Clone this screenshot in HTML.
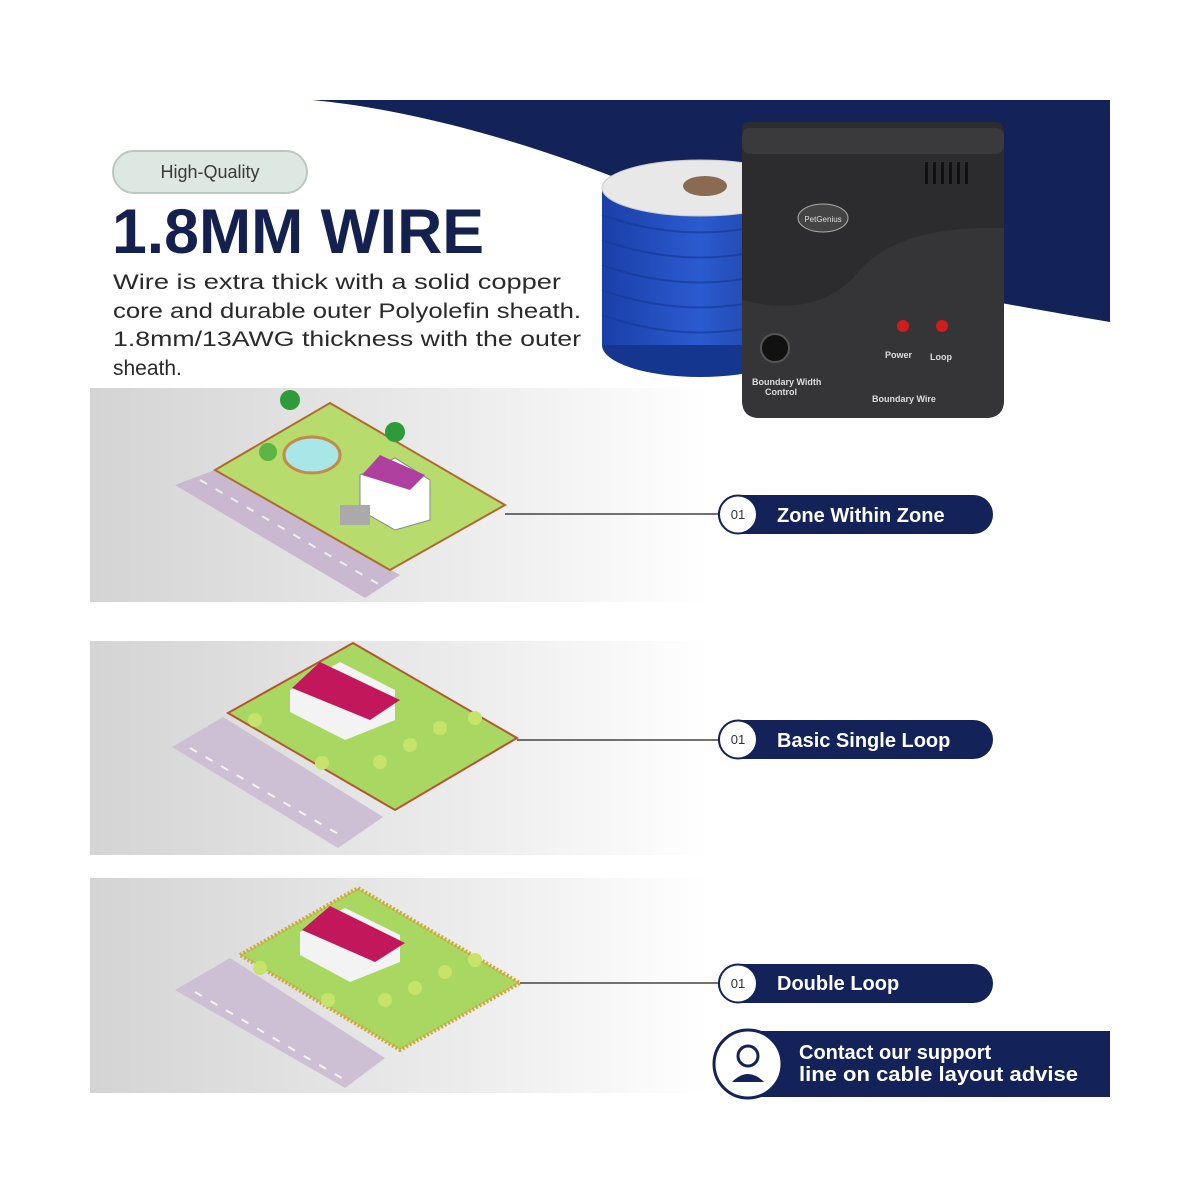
<!DOCTYPE html>
<html><head><meta charset="utf-8"><style>
html,body{margin:0;padding:0;background:#fff;}
svg{display:block;}
text{font-family:"Liberation Sans",sans-serif;}
</style></head><body>
<svg width="1200" height="1200" viewBox="0 0 1200 1200" xmlns="http://www.w3.org/2000/svg">
<defs>
<linearGradient id="pg" x1="0" y1="0" x2="1" y2="0">
<stop offset="0" stop-color="#d4d4d4"/><stop offset="0.6" stop-color="#ececec"/><stop offset="1" stop-color="#ffffff"/>
</linearGradient>
<linearGradient id="spool" x1="0" y1="0" x2="1" y2="0">
<stop offset="0" stop-color="#1a3fa8"/><stop offset="0.5" stop-color="#2b5bd0"/><stop offset="1" stop-color="#1a3a96"/>
</linearGradient>
</defs>
<!-- navy backdrop -->
<path d="M312 100 L1110 100 L1110 322 C980 300 800 270 680 205 C560 150 420 110 312 100 Z" fill="#13235a"/>

<!-- panels -->
<rect x="90" y="388" width="620" height="214" fill="url(#pg)"/>
<rect x="90" y="641" width="620" height="214" fill="url(#pg)"/>
<rect x="90" y="878" width="620" height="215" fill="url(#pg)"/>

<!-- high quality pill -->
<rect x="113" y="151" width="194" height="42" rx="21" fill="#dde8e2" stroke="#b9c9c0" stroke-width="2"/>
<text x="210" y="178" font-size="18" fill="#3a3a3a" text-anchor="middle">High-Quality</text>
<text x="112" y="253" font-size="63" font-weight="bold" fill="#14204e" textLength="372" lengthAdjust="spacingAndGlyphs">1.8MM WIRE</text>
<g font-size="21" fill="#2a2a2a">
<text x="113" y="289" textLength="448" lengthAdjust="spacingAndGlyphs">Wire is extra thick with a solid copper</text>
<text x="113" y="318" textLength="468" lengthAdjust="spacingAndGlyphs">core and durable outer Polyolefin  sheath.</text>
<text x="113" y="346" textLength="468" lengthAdjust="spacingAndGlyphs">1.8mm/13AWG thickness with the outer</text>
<text x="113" y="375">sheath.</text>
</g>

<!-- spool -->
<ellipse cx="700" cy="345" rx="98" ry="32" fill="#15368e"/>
<rect x="602" y="188" width="196" height="157" fill="url(#spool)"/>
<g stroke="#173a9a" stroke-width="2" opacity="0.7">
<path d="M602 215 Q700 250 798 215 M602 240 Q700 275 798 240 M602 265 Q700 300 798 265 M602 290 Q700 325 798 290 M602 315 Q700 350 798 315" fill="none"/>
</g>
<ellipse cx="700" cy="188" rx="98" ry="28" fill="#e8e8e8" stroke="#c9c9c9"/>
<ellipse cx="705" cy="186" rx="22" ry="10" fill="#8a6a50"/>

<!-- controller -->
<path d="M742 128 Q742 122 750 122 L995 122 Q1004 122 1004 132 L1004 400 Q1004 418 985 418 L760 418 Q742 418 742 400 Z" fill="#2c2c2e"/>
<path d="M742 300 Q820 320 860 270 Q900 225 1004 228 L1004 400 Q1004 418 985 418 L760 418 Q742 418 742 400 Z" fill="#353537"/>
<rect x="742" y="128" width="262" height="26" rx="8" fill="#3a3a3c"/>
<g fill="#111"><rect x="925" y="162" width="3" height="22"/><rect x="933" y="162" width="3" height="22"/><rect x="941" y="162" width="3" height="22"/><rect x="949" y="162" width="3" height="22"/><rect x="957" y="162" width="3" height="22"/><rect x="965" y="162" width="3" height="22"/></g>
<ellipse cx="823" cy="218" rx="25" ry="14" fill="#444" stroke="#aaa" stroke-width="1"/>
<text x="823" y="222" font-size="8" fill="#ddd" text-anchor="middle">PetGenius</text>
<circle cx="775" cy="348" r="14" fill="#111" stroke="#555" stroke-width="2"/>
<circle cx="903" cy="326" r="6" fill="#d21c1c"/><circle cx="942" cy="326" r="6" fill="#d21c1c"/>
<g font-size="9" fill="#ddd" font-weight="bold">
<text x="885" y="358">Power</text><text x="930" y="360">Loop</text>
<text x="752" y="385">Boundary Width</text><text x="765" y="395">Control</text>
<text x="872" y="402">Boundary Wire</text>
</g>

<!-- lot 1 -->
<polygon points="175,485 215,470 400,575 365,598" fill="#c9b8cf"/>
<polygon points="215,470 330,403 505,505 390,570" fill="#b7db6c" stroke="#b06a30" stroke-width="2"/>
<ellipse cx="312" cy="455" rx="28" ry="18" fill="#a8e6e8" stroke="#c58a4a" stroke-width="3"/>
<polygon points="360,475 395,458 430,480 430,520 395,530 360,510" fill="#ffffff" stroke="#888"/>
<polygon points="362,475 380,455 425,475 410,490" fill="#b0409f"/>
<circle cx="290" cy="400" r="10" fill="#2f9a3a"/><circle cx="395" cy="432" r="10" fill="#2f9a3a"/>
<circle cx="268" cy="452" r="9" fill="#5cb544"/>
<rect x="340" y="505" width="30" height="20" fill="#aaa"/>
<path d="M200 480 L380 585" stroke="#eee" stroke-width="2" stroke-dasharray="8 10"/>

<!-- lot 2 -->
<polygon points="172,747 223,717 383,817 338,848" fill="#cdbfd4"/>
<path d="M190 748 L340 835" stroke="#f4f4f4" stroke-width="2" stroke-dasharray="8 10"/>
<polygon points="228,713 353,643 517,738 395,810" fill="#a9d862" stroke="#b3572f" stroke-width="2"/>
<polygon points="290,690 340,662 395,690 395,720 345,740 290,712" fill="#f3f3f3"/>
<polygon points="292,688 320,662 400,700 370,720" fill="#c2185b"/>
<g fill="#c6e36b"><circle cx="255" cy="720" r="7"/><circle cx="322" cy="763" r="7"/><circle cx="380" cy="762" r="7"/><circle cx="410" cy="745" r="7"/><circle cx="440" cy="728" r="7"/><circle cx="475" cy="718" r="7"/></g>

<!-- lot 3 -->
<polygon points="175,990 230,958 385,1058 345,1088" fill="#cdbfd4"/>
<path d="M195 992 L345 1080" stroke="#f4f4f4" stroke-width="2" stroke-dasharray="8 10"/>
<polygon points="240,955 358,888 520,983 400,1050" fill="#a9d862" stroke="#d4a43a" stroke-width="4" stroke-dasharray="2 2"/>
<polygon points="300,932 345,908 400,935 400,962 350,982 300,955" fill="#f3f3f3"/>
<polygon points="302,930 330,906 405,943 375,962" fill="#c2185b"/>
<g fill="#c6e36b"><circle cx="260" cy="968" r="7"/><circle cx="328" cy="1000" r="7"/><circle cx="385" cy="1000" r="7"/><circle cx="415" cy="988" r="7"/><circle cx="445" cy="972" r="7"/><circle cx="475" cy="960" r="7"/></g>

<!-- connectors -->
<line x1="505" y1="514" x2="720" y2="514" stroke="#444" stroke-width="1.5"/>
<line x1="517" y1="740" x2="720" y2="740" stroke="#444" stroke-width="1.5"/>
<line x1="520" y1="983" x2="720" y2="983" stroke="#444" stroke-width="1.5"/>

<!-- pills -->
<g>
<rect x="718" y="495" width="275" height="39" rx="19.5" fill="#13235a"/>
<circle cx="738" cy="514.5" r="19" fill="#fff" stroke="#13235a" stroke-width="2"/>
<text x="738" y="519" font-size="13" fill="#333" text-anchor="middle">01</text>
<text x="777" y="522" font-size="20" font-weight="bold" fill="#fff">Zone Within Zone</text>

<rect x="718" y="720" width="275" height="39" rx="19.5" fill="#13235a"/>
<circle cx="738" cy="739.5" r="19" fill="#fff" stroke="#13235a" stroke-width="2"/>
<text x="738" y="744" font-size="13" fill="#333" text-anchor="middle">01</text>
<text x="777" y="747" font-size="20" font-weight="bold" fill="#fff">Basic Single Loop</text>

<rect x="718" y="964" width="275" height="39" rx="19.5" fill="#13235a"/>
<circle cx="738" cy="983.5" r="19" fill="#fff" stroke="#13235a" stroke-width="2"/>
<text x="738" y="988" font-size="13" fill="#333" text-anchor="middle">01</text>
<text x="777" y="990" font-size="20" font-weight="bold" fill="#fff">Double Loop</text>
</g>

<!-- contact -->
<rect x="745" y="1031" width="365" height="66" fill="#13235a"/>
<circle cx="748" cy="1064" r="34" fill="#fff" stroke="#13235a" stroke-width="3"/>
<circle cx="748" cy="1056" r="10" fill="none" stroke="#13235a" stroke-width="3"/>
<path d="M732 1082 Q748 1066 764 1082 Z" fill="#13235a"/>
<text x="799" y="1059" font-size="20" font-weight="bold" fill="#fff">Contact our support</text>
<text x="799" y="1081" font-size="20" font-weight="bold" fill="#fff" textLength="279" lengthAdjust="spacingAndGlyphs">line on cable layout advise</text>
</svg>
</body></html>
